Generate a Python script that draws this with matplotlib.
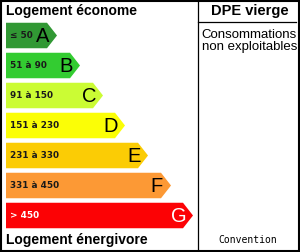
import matplotlib
matplotlib.use("Agg")
import matplotlib.pyplot as plt
from matplotlib.patches import Polygon, Rectangle

# Data
classes = ["A", "B", "C", "D", "E", "F", "G"]
ranges = ["≤ 50", "51 à 90", "91 à 150", "151 à 230", "231 à 330", "331 à 450", "> 450"]
bar_ends = [57, 80, 103, 125, 148, 171, 193]
colors = ["#319834", "#33CC31", "#CBFC34", "#FBFE06", "#FBCC05", "#FC9935", "#FC0205"]
letter_colors = ["black"] * 6 + ["white"]
range_colors = ["#1a1a1a"] * 6 + ["white"]
title_top = "Logement économe"
title_bottom = "Logement énergivore"
right_title = "DPE vierge"
right_text = "Consommations\nnon exploitables"
right_footer = "Convention"

W, H = 300, 252
fig = plt.figure(figsize=(W / 100, H / 100), dpi=100)
ax = fig.add_axes([0, 0, 1, 1])
ax.set_xlim(0, W)
ax.set_ylim(H, 0)
ax.axis("off")

x0 = 6
bar_h = 25.5
pitch = 30
y_first = 35.5
depth = 10

for i, (cls, rng, end, col) in enumerate(zip(classes, ranges, bar_ends, colors)):
    yc = y_first + pitch * i
    top, bot = yc - bar_h / 2, yc + bar_h / 2
    poly = Polygon([(x0, top), (end - depth, top), (end, yc), (end - depth, bot), (x0, bot)],
                   closed=True, facecolor=col, edgecolor="none")
    ax.add_patch(poly)
    ax.text(x0 + 4.5, yc + 0.5, rng, fontsize=6.4, fontweight="bold", family="DejaVu Sans",
            color=range_colors[i], ha="left", va="center")
    ax.text(end - 14, yc + 1, cls, fontsize=14.5, family="Liberation Sans",
            color=letter_colors[i], ha="center", va="center")

ax.text(6, 11.5, title_top, fontsize=10, fontweight="bold", family="Liberation Sans",
        ha="left", va="center")
ax.text(6, 240, title_bottom, fontsize=10, fontweight="bold", family="Liberation Sans",
        ha="left", va="center")

ax.text(250, 11.5, right_title, fontsize=10.5, fontweight="bold", family="Liberation Sans",
        ha="center", va="center")
ax.text(249.5, 41, right_text, fontsize=9.5, family="Liberation Sans",
        ha="center", va="center", linespacing=1.05)
ax.text(248, 240, right_footer, fontsize=7, family="DejaVu Sans Mono",
        ha="center", va="center")

# frame and dividers
ax.add_patch(Rectangle((0.75, 0.75), W - 1.5, H - 1.5, fill=False, edgecolor="black", linewidth=1.5))
ax.plot([198, 198], [0, H], color="black", linewidth=0.9)
ax.plot([198, 296], [21.5, 21.5], color="black", linewidth=0.9)

fig.savefig("out.png", dpi=100)
